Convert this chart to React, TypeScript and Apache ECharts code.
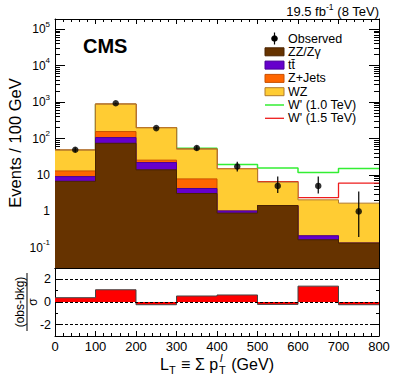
import React, { useEffect, useRef } from "react";
import * as echarts from "echarts";

// ---------------- data ----------------
const binEdges = [0, 100, 200, 300, 400, 500, 600, 700, 800];
const zzZgamma = [6.7, 74, 13.8, 3.1, 0.9, 1.45, 0.166, 0.135];
const ttbar = [2.3, 32, 8.1, 1.15, 0.13, 0, 0.048, 0];
const zJets = [3.9, 49, 3.6, 3.55, 0, 0, 0, 0];
const wz = [35, 720, 170.5, 43.2, 13.7, 4.9, 1.86, 1.55];
const wPrime10 = [47.9, 875, 196, 54.4, 19.3, 15.5, 11.6, 15];
const wPrime15 = [47.9, 875, 196, 51, 14.7, 6.6, 2.4, 5.96];
const observed = [49, 930, 193, 55, 17, 5, 5, 1];
const obsErrLow = [42, 900, 180, 47, 12.5, 3.2, 3.1, 0.2];
const obsErrHigh = [57, 960, 207, 63, 23, 9.0, 9.0, 3.5];
const pull = [0.38, 1.08, -0.24, 0.53, 0.62, -0.21, 1.4, -0.24];

const yMajorTicks = [0.1, 1, 10, 100, 1000, 10000, 100000];
const ratioMajorTicks = [-2, 0, 2];
const ratioMinorTicks = [-1, 1];
const xTickLabels = [0, 100, 200, 300, 400, 500, 600, 700, 800];

const legendLabels = ["Observed", "ZZ/Z\u03b3", "t\u0074\u0304", "Z+Jets", "WZ", "W' (1.0 TeV)", "W' (1.5 TeV)"];

// ---------------- style ----------------
const FONT = '"Liberation Sans", Arial, Helvetica, sans-serif';
const C = {
  wz: "#ffcc33", wzLine: "#b07a2c",
  zj: "#ff6600", zjLine: "#c95000",
  tt: "#6600cc", ttLine: "#4a0099",
  zz: "#663300", zzLine: "#4a2400",
  green: "#33ee33", red: "#ee1c1c",
  pull: "#ff0000", pullLine: "#444444",
};
const Y_MIN = 0.028;
const Y_MAX = 1.9e5;

function stepData(vals: number[]) {
  const pts = vals.map((v, i) => [binEdges[i], v]);
  pts.push([binEdges[binEdges.length - 1], vals[vals.length - 1]]);
  return pts;
}

function minorLogTicks() {
  const out: number[] = [];
  for (let e = -2; e <= 5; e++) {
    for (let k = 2; k <= 9; k++) {
      const v = k * Math.pow(10, e);
      if (v >= Y_MIN && v <= Y_MAX) out.push(v);
    }
  }
  return out;
}

let measureCtx: CanvasRenderingContext2D | null = null;
function textWidth(text: string, size: number, style = "") {
  if (!measureCtx) measureCtx = document.createElement("canvas").getContext("2d");
  if (!measureCtx) return text.length * size * 0.55;
  measureCtx.font = `${style} ${size}px "Liberation Sans"`;
  return measureCtx.measureText(text).width;
}

function xTitleGraphics() {
  const F = 16;
  const S = 11;
  const yMain = 364;
  const ySub = 369.5;
  const ySup = 358;
  const parts: any[] = [];
  const wL = textWidth("L", F);
  const wT = textWidth("T", S);
  const wMid = textWidth(" \u2261 \u03a3 p", F);
  const wl = textWidth("l", S, "italic");
  const wEnd = textWidth(" (GeV)", F);
  const gap = 1;
  const total = wL + wT + wMid + Math.max(wl, wT) + 3 * gap + wEnd;
  let x = 217 - total / 2;
  const txt = (t: string, xx: number, yy: number, size: number, lh: number, italic = false) => ({
    type: "text", x: xx, y: yy, silent: true,
    style: { text: t, fontSize: size, lineHeight: lh, fontFamily: FONT, fontStyle: italic ? "italic" : "normal", fill: "#000", align: "left", verticalAlign: "middle" },
  });
  parts.push(txt("L", x, yMain, F, 15)); x += wL;
  parts.push(txt("T", x, ySub, S, 9)); x += wT + gap;
  parts.push(txt(" \u2261 \u03a3 p", x, yMain, F, 15)); x += wMid + gap;
  parts.push(txt("l", x + 1, ySup, S, 7, true));
  parts.push(txt("T", x, ySub, S, 9)); x += Math.max(wl, wT) + gap;
  parts.push(txt(" (GeV)", x, yMain, F, 15));
  return parts;
}

function legendGraphics() {
  const rows = [38.5, 51.8, 65.1, 78.4, 91.7, 105, 118.3];
  const bx = 265, bw = 19, tx = 288;
  const g: any[] = [];
  g.push({ type: "line", silent: true, shape: { x1: bx + bw / 2, y1: rows[0] - 6, x2: bx + bw / 2, y2: rows[0] + 6 }, style: { stroke: "#000", lineWidth: 1.2 } });
  g.push({ type: "circle", silent: true, shape: { cx: bx + bw / 2, cy: rows[0], r: 3.3 }, style: { fill: "#000" } });
  const boxes = [
    [C.zz, C.zzLine], [C.tt, C.ttLine], [C.zj, C.zjLine], [C.wz, C.wzLine],
  ];
  boxes.forEach((b, i) => {
    g.push({ type: "rect", silent: true, shape: { x: bx, y: rows[i + 1] - 4, width: bw, height: 8 }, style: { fill: b[0], stroke: b[1], lineWidth: 1 } });
  });
  g.push({ type: "line", silent: true, shape: { x1: bx, y1: rows[5], x2: bx + bw, y2: rows[5] }, style: { stroke: C.green, lineWidth: 1.5 } });
  g.push({ type: "line", silent: true, shape: { x1: bx, y1: rows[6], x2: bx + bw, y2: rows[6] }, style: { stroke: C.red, lineWidth: 1.3 } });
  legendLabels.forEach((t, i) => {
    g.push({ type: "text", silent: true, x: tx, y: rows[i], style: { text: t, fontSize: 12.5, fontFamily: FONT, fill: "#000", align: "left", verticalAlign: "middle" } });
  });
  return g;
}

function buildOption(): any {
  const nb = wz.length;
  const ttCum = zzZgamma.map((v, i) => v + ttbar[i]);
  const zjCum = ttCum.map((v, i) => v + zJets[i]);
  const total = zjCum.map((v, i) => v + wz[i]);
  const centers = binEdges.slice(0, nb).map((e, i) => (e + binEdges[i + 1]) / 2);
  const minors = minorLogTicks();

  const grid0 = { left: 55, top: 19, width: 324, height: 249 };
  const grid1 = { left: 55, top: 268, width: 324, height: 68 };

  const blackLine = { lineStyle: { color: "#000", width: 1 } };

  const xBase = (gridIndex: number, position: string, major: number, minor: number, labels: boolean) => ({
    type: "value", gridIndex, position, min: 0, max: 800, interval: 100,
    axisLine: { show: true, onZero: false, ...blackLine },
    axisTick: { show: major > 0, inside: true, length: major, ...blackLine },
    minorTick: { show: minor > 0, splitNumber: 5, length: minor, ...blackLine },
    splitLine: { show: false },
    axisLabel: labels
      ? { show: true, fontSize: 13, lineHeight: 14, fontFamily: FONT, color: "#000", margin: 3, customValues: xTickLabels }
      : { show: false },
  });

  const logFormatter = (v: number) => {
    const e = Math.round(Math.log10(v));
    if (e === 0) return "{b|1}";
    if (e === 1) return "{b|10}";
    return `{b|10}{s|${e}}`;
  };

  const yLog = (position: string, ticks: number[], len: number, showLine: boolean, labels: boolean) => ({
    type: "log", logBase: 10, gridIndex: 0, position, min: Y_MIN, max: Y_MAX,
    axisLine: { show: showLine, onZero: false, ...blackLine },
    axisTick: { show: true, inside: true, length: len, customValues: ticks, ...blackLine },
    splitLine: { show: false },
    minorTick: { show: false },
    axisLabel: labels
      ? {
          show: true, customValues: yMajorTicks, margin: 5, formatter: logFormatter,
          rich: {
            b: { fontSize: 12, fontFamily: FONT, color: "#000", lineHeight: 18 },
            s: { fontSize: 8, fontFamily: FONT, color: "#000", lineHeight: 8, verticalAlign: "top" },
          },
        }
      : { show: false },
  });

  const yRatio = (position: string, ticks: number[], len: number, showLine: boolean, labels: boolean) => ({
    type: "value", gridIndex: 1, position, min: -3, max: 3,
    axisLine: { show: showLine, onZero: false, ...blackLine },
    axisTick: { show: true, inside: true, length: len, customValues: ticks, ...blackLine },
    splitLine: { show: false },
    axisLabel: labels
      ? { show: true, customValues: ratioMajorTicks, fontSize: 12.5, fontFamily: FONT, color: "#000", margin: 4 }
      : { show: false },
  });

  const histLine = (name: string, vals: number[], fill: string, line: string, z: number) => ({
    name, type: "line", xAxisIndex: 0, yAxisIndex: 0, data: stepData(vals), step: "end",
    symbol: "none", showSymbol: false, z, silent: true, clip: true,
    lineStyle: { color: line, width: 1 },
    areaStyle: { color: fill, opacity: 1, origin: "start" },
  });

  const sigLine = (name: string, vals: number[], color: string, width: number, z: number) => ({
    name, type: "line", xAxisIndex: 0, yAxisIndex: 0, data: stepData(vals), step: "end",
    symbol: "none", showSymbol: false, z, silent: true, clip: true,
    lineStyle: { color, width },
  });

  const graphics: any[] = [
    { type: "text", silent: true, x: 83, y: 46, style: { text: "CMS", fontSize: 20, fontWeight: "bold", fontFamily: FONT, fill: "#000", align: "left", verticalAlign: "middle" } },
    {
      type: "text", silent: true, x: 379, y: 11,
      style: {
        text: "{a|19.5 fb}{s|-1}{a| (8 TeV)}", align: "right", verticalAlign: "middle",
        rich: {
          a: { fontSize: 13, fontFamily: FONT, fill: "#000", lineHeight: 18 },
          s: { fontSize: 8.5, fontFamily: FONT, fill: "#000", lineHeight: 9, verticalAlign: "top" },
        },
      },
    },
    {
      type: "text", silent: true, x: 15, y: 143, rotation: Math.PI / 2,
      style: { text: "Events / 100 GeV", fontSize: 16.5, fontFamily: FONT, fill: "#000", align: "center", verticalAlign: "middle" },
    },
    {
      type: "group", x: 27, y: 302, rotation: Math.PI / 2, silent: true,
      children: [
        { type: "text", x: 0, y: -7, style: { text: "(obs-bkg)", fontSize: 12, fontFamily: FONT, fill: "#000", align: "center", verticalAlign: "middle" } },
        { type: "line", shape: { x1: -29, y1: 0, x2: 29, y2: 0 }, style: { stroke: "#000", lineWidth: 1 } },
        { type: "text", x: 0, y: 5.5, style: { text: "\u03c3", fontSize: 12, fontFamily: FONT, fill: "#000", align: "center", verticalAlign: "middle" } },
      ],
    },
    ...legendGraphics(),
    ...xTitleGraphics(),
  ];

  return {
    animation: false,
    backgroundColor: "#ffffff",
    grid: [grid0, grid1],
    xAxis: [
      xBase(0, "bottom", 7, 4, false),
      xBase(0, "top", 5, 3, false),
      xBase(1, "bottom", 5, 3, true),
      xBase(1, "top", 0, 0, false),
    ],
    yAxis: [
      yLog("left", yMajorTicks, 10, true, true),
      yLog("left", minors, 5, false, false),
      yLog("right", yMajorTicks, 10, true, false),
      yLog("right", minors, 5, false, false),
      yRatio("left", ratioMajorTicks, 6, true, true),
      yRatio("left", ratioMinorTicks, 3, false, false),
      yRatio("right", ratioMajorTicks, 6, true, false),
      yRatio("right", ratioMinorTicks, 3, false, false),
    ],
    series: [
      sigLine("W' (1.0 TeV)", wPrime10, C.green, 1.5, 2),
      sigLine("W' (1.5 TeV)", wPrime15, C.red, 1.3, 2),
      histLine("WZ", total, C.wz, C.wzLine, 3),
      histLine("Z+Jets", zjCum, C.zj, C.zjLine, 4),
      histLine("ttbar", ttCum, C.tt, C.ttLine, 5),
      histLine("ZZ/Zgamma", zzZgamma, C.zz, C.zzLine, 6),
      {
        name: "obs-err", type: "custom", xAxisIndex: 0, yAxisIndex: 0, z: 7, silent: true,
        data: centers.map((c, i) => [c, obsErrLow[i], obsErrHigh[i]]),
        encode: { x: 0, y: [1, 2] },
        renderItem: (_p: any, api: any) => {
          const x = api.value(0);
          const a = api.coord([x, api.value(1)]);
          const b = api.coord([x, api.value(2)]);
          return { type: "line", shape: { x1: a[0], y1: a[1], x2: b[0], y2: b[1] }, style: { stroke: "#000", lineWidth: 1.2 } };
        },
      },
      {
        name: "Observed", type: "scatter", xAxisIndex: 0, yAxisIndex: 0, z: 8, silent: true,
        data: centers.map((c, i) => [c, observed[i]]),
        symbol: "circle", symbolSize: 6.5, itemStyle: { color: "#000" },
      },
      {
        name: "pull", type: "line", xAxisIndex: 2, yAxisIndex: 4, data: stepData(pull), step: "end",
        symbol: "none", showSymbol: false, z: 3, silent: true,
        lineStyle: { color: C.pullLine, width: 1 },
        areaStyle: { color: C.pull, opacity: 1, origin: "auto" },
        markLine: {
          silent: true, symbol: ["none", "none"], label: { show: false }, z: 10,
          lineStyle: { color: "#000", width: 1, type: [3, 2] },
          data: ratioMajorTicks.map((v) => ({ yAxis: v })),
        },
      },
    ],
    graphic: graphics,
  };
}

export default function App() {
  const ref = useRef<HTMLDivElement>(null);
  useEffect(() => {
    if (!ref.current) return;
    const chart = echarts.init(ref.current, null, { renderer: "svg" });
    chart.setOption(buildOption());
    return () => chart.dispose();
  }, []);
  return (
    <div
      ref={ref}
      style={{ position: "fixed", left: 0, top: 0, width: 399, height: 383, background: "#fff" }}
    />
  );
}
